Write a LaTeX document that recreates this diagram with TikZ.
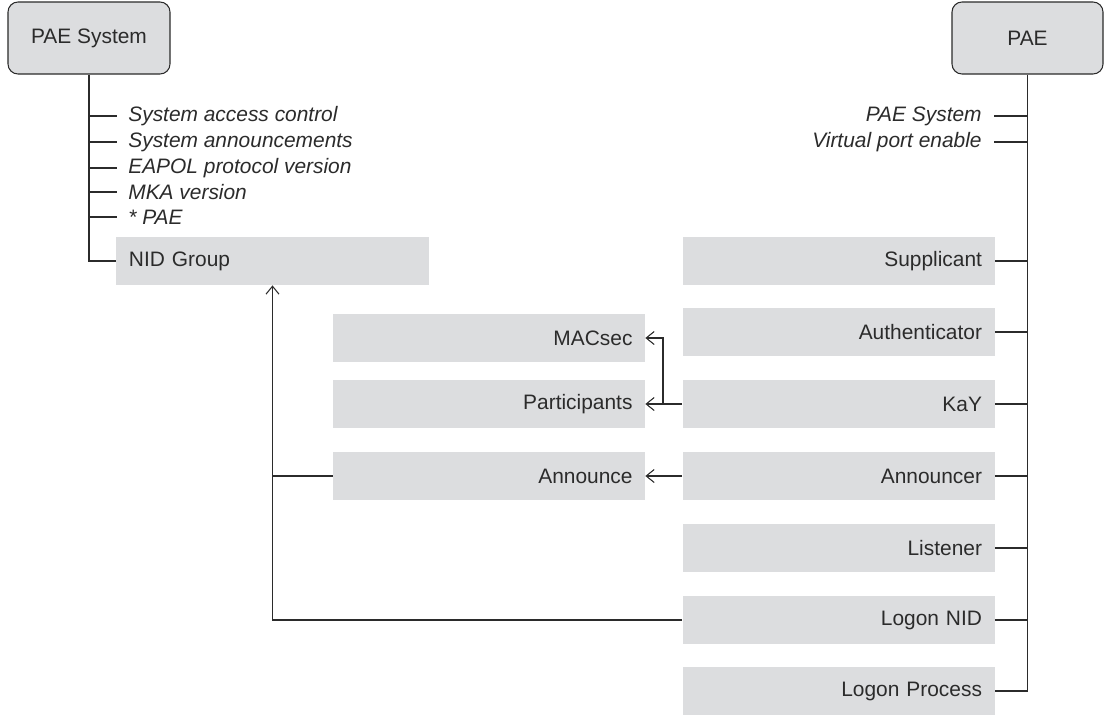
\documentclass[tikz,border=0pt]{standalone}
\usepackage{fontspec}
\setmainfont{Liberation Sans}
\usepackage{xcolor}
\usetikzlibrary{positioning, arrows.meta, calc}

\definecolor{boxgray}{HTML}{DCDDDF}
\definecolor{inkgray}{HTML}{2B2B2B}

\begin{document}
\begin{tikzpicture}[
  x=0.2mm, y=-0.2mm,
  font=\fontsize{11.9}{14}\selectfont, text=inkgray,
  rootbox/.style={draw=inkgray, line width=0.6pt, rounded corners=2mm, fill=boxgray,
                  minimum height=14.4mm, inner sep=0pt},
  objbox/.style={fill=boxgray, minimum height=9.6mm, inner ysep=0pt,
                 inner xsep=2.5mm, text width=57.4mm},
  rightbox/.style={objbox, align=right},
  leftbox/.style={objbox, align=left},
  attrl/.style={font=\fontsize{11.9}{14}\selectfont\itshape, anchor=west, inner xsep=2.2mm, inner ysep=0pt},
  attrr/.style={font=\fontsize{11.9}{14}\selectfont\itshape, anchor=east, inner xsep=2.4mm, inner ysep=0pt},
  link/.style={draw=inkgray, line width=0.6pt},
  arrow/.style={link, -{Straight Barb[length=1.6mm, width=2.6mm]}},
]
\useasboundingbox (0,0) rectangle (1104,715);

% roots
\node[rootbox, minimum width=32.4mm] (paesys) at (89, 38) {PAE System};
\node[rootbox, minimum width=30.2mm] (pae) at (1027.5, 38) {PAE};

% PAE System attributes
\node[attrl] (sysacc) at (117, 116) {System access control};
\node[attrl] (sysann) at (117, 142) {System announcements};
\node[attrl] (eapol) at (117, 168) {EAPOL protocol version};
\node[attrl] (mkaver) at (117, 192) {MKA version};
\node[attrl] (starpae) at (117, 217) {* PAE};
\node[leftbox] (nidgroup) at (272.5, 261) {NID Group};

% PAE attributes
\node[attrr] (paesysattr) at (994, 116) {PAE System};
\node[attrr] (vpenable) at (994, 142) {Virtual port enable};

% PAE components
\node[rightbox] (supp) at (838.5, 261) {Supplicant};
\node[rightbox] (auth) at (838.5, 332) {Authenticator};
\node[rightbox] (kay) at (838.5, 404) {KaY};
\node[rightbox] (announcer) at (838.5, 476) {Announcer};
\node[rightbox] (listener) at (838.5, 548) {Listener};
\node[rightbox] (logonnid) at (838.5, 620) {Logon NID};
\node[rightbox] (logonproc) at (838.5, 691) {Logon Process};

% KaY / Announcer objects
\node[rightbox] (macsec) at (489, 338) {MACsec};
\node[rightbox] (partic) at (489, 404) {Participants};
\node[rightbox] (announce) at (489, 476) {Announce};

% left tree
\draw[link] (paesys.south) |- (nidgroup.west);
\foreach \a in {sysacc, sysann, eapol, mkaver, starpae}
  \draw[link] (paesys.south |- \a.west) -- (\a.west);

% right tree
\draw[link] (pae.south) |- (logonproc.east);
\foreach \a in {paesysattr, vpenable}
  \draw[link] (\a.east) -- (pae.south |- \a.east);
\foreach \b in {supp, auth, kay, announcer, listener, logonnid}
  \draw[link] (\b.east) -- (pae.south |- \b.east);

% references
\coordinate (kayjoin) at (663, 404);
\draw[arrow] (kay.west) -- (partic.east);
\draw[arrow] (kayjoin) |- (macsec.east);
\draw[arrow] (announcer.west) -- (announce.east);
\draw[link] (announce.west) -- (nidgroup.south |- announce.west);
\draw[arrow] (logonnid.west) -| (nidgroup.south);
\end{tikzpicture}
\end{document}
